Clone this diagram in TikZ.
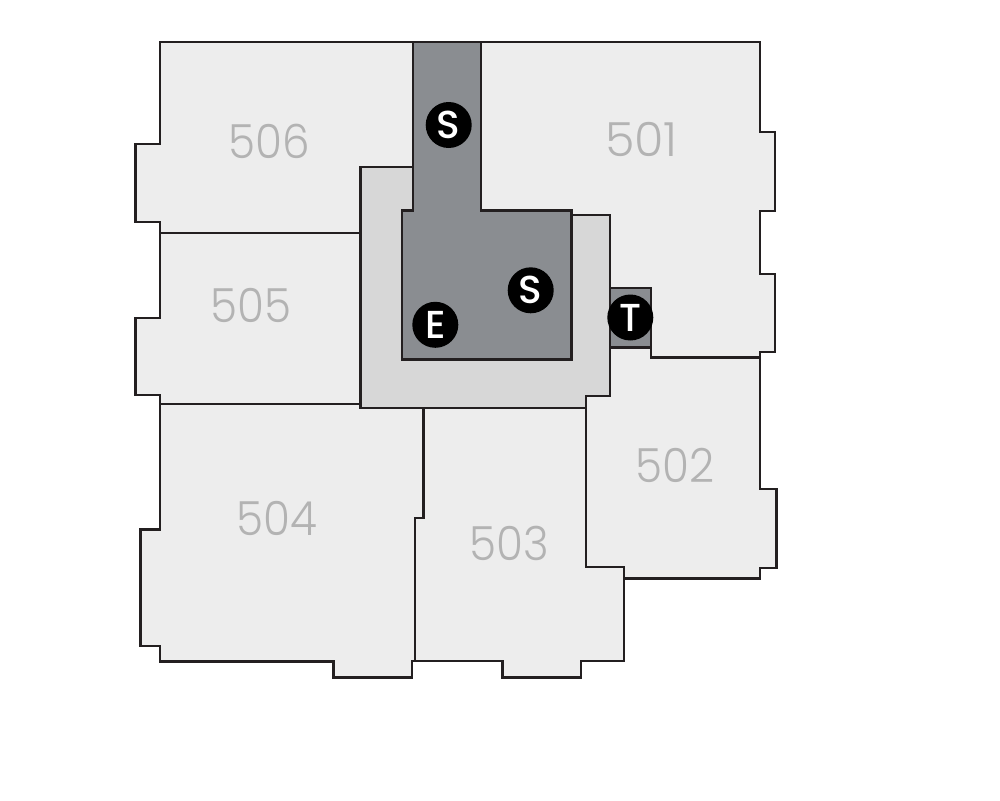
\documentclass[tikz,border=0pt]{standalone}
\usepackage{fontspec}
\setmainfont{Poppins}
\newfontfamily\numfont{Poppins Light}
\newfontfamily\markfont{Poppins Medium}
\definecolor{unitfill}{HTML}{EDEDED}
\definecolor{corefill}{HTML}{D7D7D7}
\definecolor{shaftfill}{HTML}{8A8D91}
\definecolor{wall}{HTML}{231F20}
\definecolor{unittext}{HTML}{B3B3B3}
\tikzset{
  unit/.style={fill=unitfill,draw=wall,line width=2.6pt,line join=miter},
  core/.style={fill=corefill,draw=wall,line width=2.6pt,line join=miter},
  shaft/.style={fill=shaftfill,draw=wall,line width=2.6pt,line join=miter},
  unitlabel/.style={text=unittext,font=\numfont\fontsize{47}{47}\selectfont,inner sep=0pt,xscale=.93},
  markdisc/.style={circle,fill=black,text=white,minimum size=46pt,inner sep=0pt,font=\markfont\fontsize{39}{39}\selectfont}
}
\begin{document}
\begin{tikzpicture}[x=1pt,y=-1pt]
\useasboundingbox (0,0) rectangle (1000,800);
\fill[white] (0,0) rectangle (1000,800);
% units
\draw[unit] (160,42) -- (413,42) -- (413,167) -- (360.5,167) -- (360.5,233) -- (160,233) -- (160,222) -- (135.7,222) -- (135.7,144) -- (160,144) -- cycle;
\draw[unit] (481,42) -- (760,42) -- (760,132) -- (775,132) -- (775,211) -- (760,211) -- (760,274) -- (775,274) -- (775,352) -- (760,352) -- (760,357.5) -- (651,357.5) -- (651,288) -- (610,288) -- (610,215) -- (571,215) -- (571,211) -- (481,211) -- cycle;
\draw[unit] (160,233) -- (360.5,233) -- (360.5,404) -- (160,404) -- (160,395) -- (135.7,395) -- (135.7,318) -- (160,318) -- cycle;
\draw[unit] (586,396) -- (610,396) -- (610,347.5) -- (651,347.5) -- (651,357.5) -- (760,357.5) -- (760,489) -- (776.7,489) -- (776.7,568) -- (760,568) -- (760,578.7) -- (624,578.7) -- (624,567) -- (586,567) -- cycle;
\draw[unit] (423.3,408) -- (586,408) -- (586,567) -- (624,567) -- (624,661) -- (581,661) -- (581,677.7) -- (502.5,677.7) -- (502.5,661) -- (415,661) -- (415,518) -- (423.3,518) -- cycle;
\draw[unit] (160,404) -- (360.5,404) -- (360.5,408) -- (423.3,408) -- (423.3,518) -- (415,518) -- (415,661) -- (412,661) -- (412,677.7) -- (333.5,677.7) -- (333.5,661.7) -- (160,661.7) -- (160,646) -- (140.5,646) -- (140.5,529.7) -- (160,529.7) -- cycle;
% core
\draw[core] (360.5,167) -- (413,167) -- (413,211) -- (571,211) -- (571,215) -- (610,215) -- (610,396) -- (586,396) -- (586,408) -- (360.5,408) -- cycle;
% shafts
\draw[shaft] (413,42) -- (481,42) -- (481,210.7) -- (571.5,210.7) -- (571.5,359.3) -- (402,359.3) -- (402,210.7) -- (413,210.7) -- cycle;
\draw[shaft] (610,288) -- (651,288) -- (651,347.5) -- (610,347.5) -- cycle;
% labels
\node[unitlabel] (u506) at (269,141) {506};
\node[unitlabel,xscale=1.09] (u501) at (641.5,139) {501};
\node[unitlabel] (u505) at (251,305) {505};
\node[unitlabel] (u504) at (277,518) {504};
\node[unitlabel] (u503) at (509,543) {503};
\node[unitlabel] (u502) at (675,465) {502};
% markers
\node[markdisc] (s1) at (448.7,125) {S};
\node[markdisc] (s2) at (530.7,290.3) {S};
\node[markdisc] (e1) at (435.3,324.8) {E};
\node[markdisc] (t1) at (630.3,317.5) {T};
\end{tikzpicture}
\end{document}
